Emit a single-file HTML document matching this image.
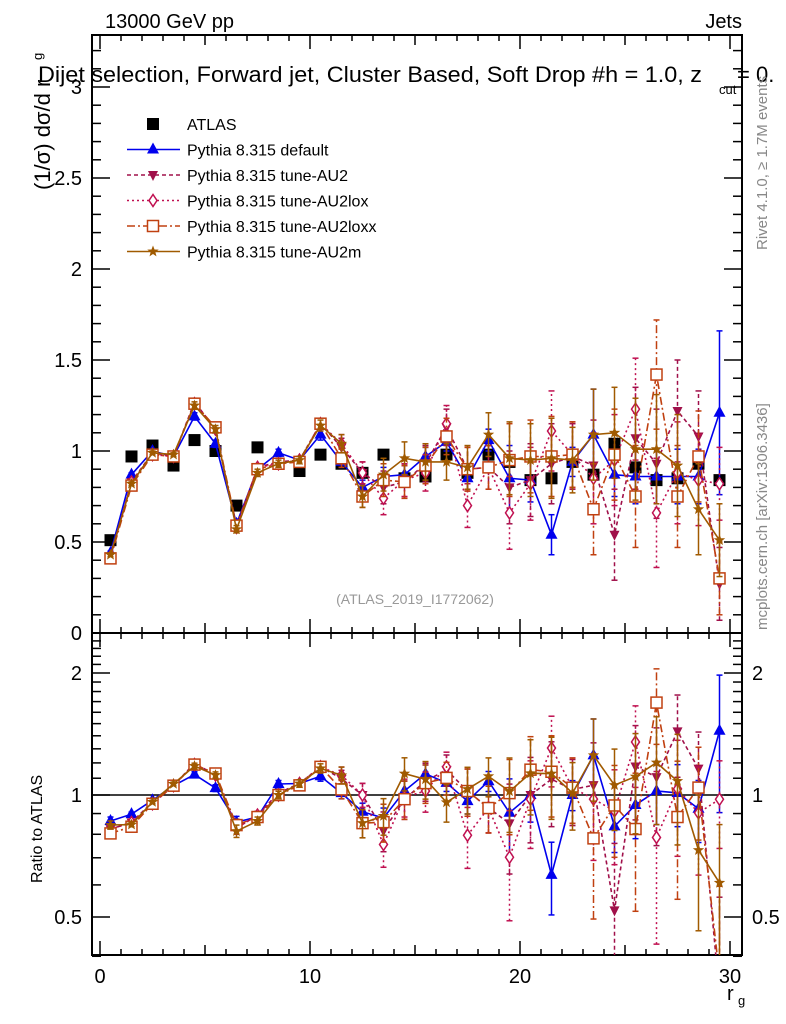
<!DOCTYPE html>
<html><head><meta charset="utf-8"><style>
body{margin:0;background:#fff;overflow:hidden;}
svg{display:block;font-family:"Liberation Sans",sans-serif;}
</style></head><body>
<svg id="c" width="786" height="1024" viewBox="0 0 786 1024"></svg>
<script>
const bins=[0.5,1.5,2.5,3.5,4.5,5.5,6.5,7.5,8.5,9.5,10.5,11.5,12.5,13.5,14.5,15.5,16.5,17.5,18.5,19.5,20.5,21.5,22.5,23.5,24.5,25.5,26.5,27.5,28.5,29.5];
const atlas=[0.51,0.97,1.03,0.92,1.06,1.00,0.70,1.02,0.93,0.89,0.98,0.93,0.88,0.98,0.85,0.86,0.98,0.88,0.98,0.94,0.84,0.85,0.94,0.87,1.04,0.91,0.84,0.85,0.93,0.84];
const sDefault=[0.44,0.87,1.00,0.97,1.19,1.04,0.60,0.90,0.99,0.95,1.09,0.94,0.80,0.86,0.87,0.97,1.05,0.85,1.06,0.85,0.84,0.54,0.94,1.09,0.87,0.86,0.86,0.86,0.86,1.21];
const sAU2=[0.42,0.83,0.99,0.97,1.27,1.12,0.58,0.91,0.94,0.95,1.15,1.02,0.88,0.80,0.83,0.93,1.13,0.90,0.91,0.80,0.84,0.93,0.97,0.92,0.54,1.07,0.93,1.22,1.08,0.27];
const sAU2lox=[0.42,0.83,0.98,0.97,1.26,1.12,0.58,0.91,0.93,0.95,1.15,1.04,0.88,0.74,0.84,0.88,1.15,0.70,0.91,0.66,0.82,1.11,0.98,0.85,0.95,1.23,0.66,0.88,0.84,0.82];
const sAU2loxx=[0.41,0.81,0.98,0.97,1.26,1.13,0.59,0.90,0.93,0.94,1.15,0.96,0.75,0.84,0.83,0.92,1.08,0.90,0.91,0.95,0.97,0.97,0.98,0.68,0.98,0.75,1.42,0.75,0.97,0.30];
const sAU2m=[0.43,0.82,0.99,0.98,1.25,1.12,0.57,0.88,0.93,0.95,1.14,1.04,0.75,0.87,0.96,0.94,0.94,0.91,1.09,0.96,0.95,0.96,0.95,1.09,1.10,1.01,1.01,0.92,0.68,0.51];
const errDefault=[0.01,0.01,0.01,0.01,0.02,0.02,0.02,0.02,0.02,0.02,0.03,0.03,0.04,0.05,0.05,0.05,0.05,0.06,0.06,0.18,0.12,0.11,0.08,0.25,0.12,0.15,0.15,0.15,0.15,0.45];
const errOther=[0.01,0.01,0.01,0.01,0.02,0.02,0.02,0.02,0.02,0.02,0.03,0.05,0.06,0.09,0.09,0.10,0.10,0.12,0.12,0.20,0.20,0.22,0.18,0.25,0.25,0.28,0.30,0.28,0.25,0.20];
const xTicks=[0,10,20,30];
const yTicks=[0,0.5,1,1.5,2,2.5,3];
const rTicks=[0.5,1,2];

const NS="http://www.w3.org/2000/svg";
const svg=document.getElementById('c');
const L=92,R=742,T=35,MB=633,RB=955;
const X=v=>100+v*21;
const Y=v=>633-v*182;
const YR=v=>795-Math.log2(v)*122;
function mk(t,a,p){const e=document.createElementNS(NS,t);for(const k in a)e.setAttribute(k,a[k]);(p||svg).appendChild(e);return e;}
function txt(s,x,y,a,p){const e=mk('text',Object.assign({x:x,y:y,'font-size':20,fill:'#000'},a||{}),p);e.textContent=s;return e;}

const defs=mk('defs',{});
const cp1=mk('clipPath',{id:'cm'},defs);mk('rect',{x:L,y:T,width:R-L,height:MB-T},cp1);
const cp2=mk('clipPath',{id:'cr'},defs);mk('rect',{x:L,y:MB,width:R-L,height:RB-MB},cp2);

let e=mk('rect',{x:L,y:T,width:R-L,height:MB-T,fill:'none',stroke:'#000','stroke-width':2});

e=mk('rect',{x:L,y:MB,width:R-L,height:RB-MB,fill:'none',stroke:'#000','stroke-width':2});


for(let v=0;v<=30;v++){const major=v%10===0,mid=v%5===0;const len=major?14:(mid?10:6);const x=X(v);
 mk('line',{x1:x,y1:RB,x2:x,y2:RB-len,stroke:'#000','stroke-width':1.5});
 mk('line',{x1:x,y1:MB,x2:x,y2:MB-len,stroke:'#000','stroke-width':1.5});
 mk('line',{x1:x,y1:MB,x2:x,y2:MB+len,stroke:'#000','stroke-width':1.5});
 mk('line',{x1:x,y1:T,x2:x,y2:T+len,stroke:'#000','stroke-width':1.5});}
xTicks.forEach(v=>{e=txt(v,X(v),983,{'text-anchor':'middle'});});
e=txt('r',727,1000,{'font-size':20});
txt('g',738,1005,{'font-size':13});

for(let i=0;i<=32;i++){const v=i*0.1;const y=Y(v);if(y<T)break;const major=i%5===0;const len=major?18:9;
 mk('line',{x1:L,y1:y,x2:L+len,y2:y,stroke:'#000','stroke-width':1.5});
 mk('line',{x1:R,y1:y,x2:R-len,y2:y,stroke:'#000','stroke-width':1.5});}
yTicks.forEach(v=>{e=txt(v,82,Y(v)+7,{'text-anchor':'end'});});

for(let k=4;k<25;k++){const vv=k/10;const y=YR(vv);const major=rTicks.includes(vv);const len=major?18:9;
 mk('line',{x1:L,y1:y,x2:L+len,y2:y,stroke:'#000','stroke-width':1.5});
 mk('line',{x1:R,y1:y,x2:R-len,y2:y,stroke:'#000','stroke-width':1.5});}
rTicks.forEach(v=>{e=txt(v,82,YR(v)+7,{'text-anchor':'end'});
 e=txt(v,752,YR(v)+7,{'text-anchor':'start'});});
mk('line',{x1:L,y1:YR(1),x2:R,y2:YR(1),stroke:'#000','stroke-width':1.5});

e=txt('13000 GeV pp',105,28);
e=txt('Jets',742,28,{'text-anchor':'end'});
e=txt('Dijet selection, Forward jet, Cluster Based, Soft Drop #h = 1.0, z',38,82,{'font-size':22,textLength:664,lengthAdjust:'spacingAndGlyphs'});
txt('cut',719,94,{'font-size':13});txt('= 0.',737,82,{'font-size':22});
e=txt('(ATLAS_2019_I1772062)',415,604,{'font-size':14,fill:'#999','text-anchor':'middle'});
e=txt('(1/σ) dσ/d r',0,0,{'font-size':22,transform:'translate(50,190) rotate(-90)'});
txt('g',0,0,{'font-size':13,transform:'translate(42,60) rotate(-90)'});
e=txt('Ratio to ATLAS',0,0,{'font-size':16,transform:'translate(42,883) rotate(-90)'});
e=txt('Rivet 4.1.0, ≥ 1.7M events',0,0,{'font-size':15,fill:'#888',transform:'translate(767,250) rotate(-90)'});
e=txt('mcplots.cern.ch [arXiv:1306.3436]',0,0,{'font-size':15,fill:'#888',transform:'translate(767,630) rotate(-90)'});

function marker(g,kind,x,y,col){
 if(kind==='tri')mk('polygon',{points:`${x},${y-7} ${x-6},${y+4} ${x+6},${y+4}`,fill:col},g);
 else if(kind==='itri')mk('polygon',{points:`${x},${y+6} ${x-5},${y-4} ${x+5},${y-4}`,fill:col},g);
 else if(kind==='dia')mk('polygon',{points:`${x},${y-6} ${x-4},${y} ${x},${y+6} ${x+4},${y}`,fill:'#fff',stroke:col,'stroke-width':1.5},g);
 else if(kind==='osq')mk('rect',{x:x-5.5,y:y-5.5,width:11,height:11,fill:'#fff',stroke:col,'stroke-width':1.5},g);
 else if(kind==='star'){let p=[];for(let i=0;i<10;i++){const r=i%2?2.5:6;const a=-Math.PI/2+i*Math.PI/5;p.push((x+r*Math.cos(a)).toFixed(1)+','+(y+r*Math.sin(a)).toFixed(1));}mk('polygon',{points:p.join(' '),fill:col},g);}
 else if(kind==='sq')mk('rect',{x:x-6,y:y-6,width:12,height:12,fill:col},g);
}
const series=[
 {name:'Pythia 8.315 default',vals:sDefault,err:errDefault,col:'#0000ee',dash:'',kind:'tri',id:'default'},
 {name:'Pythia 8.315 tune-AU2',vals:sAU2,err:errOther,col:'#a0104a',dash:'4,3',kind:'itri',id:'au2'},
 {name:'Pythia 8.315 tune-AU2lox',vals:sAU2lox,err:errOther,col:'#c01050',dash:'2,3',kind:'dia',id:'au2lox'},
 {name:'Pythia 8.315 tune-AU2loxx',vals:sAU2loxx,err:errOther,col:'#c04010',dash:'8,3,2,3',kind:'osq',id:'au2loxx'},
 {name:'Pythia 8.315 tune-AU2m',vals:sAU2m,err:errOther,col:'#a05a00',dash:'',kind:'star',id:'au2m'}];

const ga=mk('g',{'clip-path':'url(#cm)'});

bins.forEach((b,i)=>marker(ga,'sq',X(b),Y(atlas[i]),'#000'));

series.forEach(s=>{
 ['m','r'].forEach(pn=>{
  const g=mk('g',{'clip-path':pn==='m'?'url(#cm)':'url(#cr)'});
  
  
  const yf=pn==='m'?(i,v)=>Y(v):(i,v)=>YR(Math.max(v/atlas[i],0.05));
  const pts=bins.map((b,i)=>X(b)+','+yf(i,s.vals[i]).toFixed(1)).join(' ');
  const a={points:pts,fill:'none',stroke:s.col,'stroke-width':1.6};if(s.dash)a['stroke-dasharray']=s.dash;
  mk('polyline',a,g);
  bins.forEach((b,i)=>{const x=X(b);const lo=yf(i,Math.max(s.vals[i]-s.err[i],0.02)),hi=yf(i,s.vals[i]+s.err[i]);
   const la={x1:x,y1:lo,x2:x,y2:hi,stroke:s.col,'stroke-width':1.5};if(s.dash)la['stroke-dasharray']=s.dash;mk('line',la,g);
   mk('line',{x1:x-3,y1:lo,x2:x+3,y2:lo,stroke:s.col,'stroke-width':1.5},g);
   mk('line',{x1:x-3,y1:hi,x2:x+3,y2:hi,stroke:s.col,'stroke-width':1.5},g);
   marker(g,s.kind,x,yf(i,s.vals[i]),s.col);});
 });
});

const lg=mk('g',{});
const ly=124;
const le=mk('g',{},lg);


marker(le,'sq',153,ly,'#000');txt('ATLAS',187,ly+6,{'font-size':16},le);
series.forEach((s,k)=>{const y=ly+25.5*(k+1);const g=mk('g',{},lg);
 
 
 const a={x1:127,y1:y,x2:180,y2:y,stroke:s.col,'stroke-width':1.6};if(s.dash)a['stroke-dasharray']=s.dash;mk('line',a,g);
 marker(g,s.kind,153,y,s.col);txt(s.name,187,y+6,{'font-size':16},g);});
</script>
</body></html>
